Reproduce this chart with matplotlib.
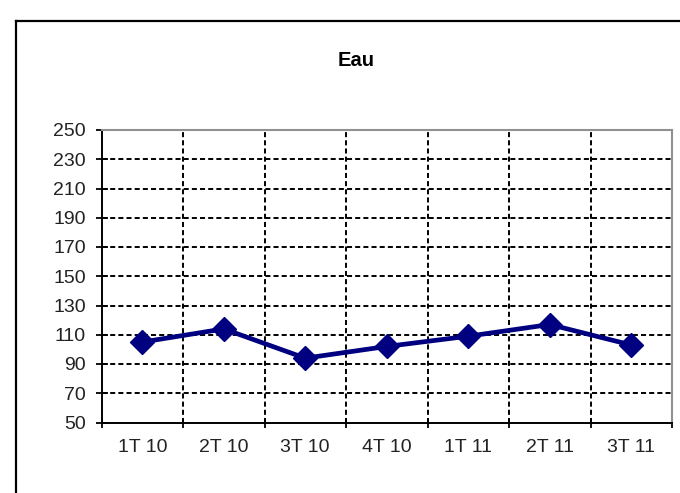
import matplotlib
matplotlib.use("Agg")
import matplotlib.pyplot as plt
from matplotlib.lines import Line2D
import numpy as np

categories = ["1T 10", "2T 10", "3T 10", "4T 10", "1T 11", "2T 11", "3T 11"]
values = [105, 114, 94, 102, 109, 117, 103]
y_ticks = list(range(50, 251, 20))
title = "Eau"

plt.rcParams['font.family'] = ['Liberation Sans', 'DejaVu Sans']

fig = plt.figure(figsize=(6.8, 4.93), dpi=100)
fig.patch.set_facecolor("white")

# outer frame (left and top visible)
fig.add_artist(Line2D([16/680, 16/680], [0, 1 - 21/493], transform=fig.transFigure,
                      color="black", lw=1.6))
fig.add_artist(Line2D([16/680, 1], [1 - 21/493, 1 - 21/493], transform=fig.transFigure,
                      color="black", lw=1.6))

ax = fig.add_axes([101.5/680, 70.5/493, (672-101.5)/680, (422.5-130)/493])
x = np.arange(len(categories))
ax.plot(x, values, color="#000080", lw=3.4, marker="D", ms=12.5, zorder=5, clip_on=False)

ax.set_xlim(-0.5, len(categories) - 0.5)
ax.set_ylim(50, 250)
ax.set_yticks(y_ticks)
ax.set_xticks(x)
ax.set_xticklabels(categories)
ax.set_xticks(np.arange(-0.5, len(categories), 1), minor=True)

ax.tick_params(axis="x", which="major", length=0, pad=12, labelsize=14, colors="#222222")
ax.tick_params(axis="x", which="minor", direction="inout", length=7.5, width=1.3, color="black")
ax.tick_params(axis="y", which="major", direction="inout", length=8.5, width=1.3,
               color="black", pad=7, labelsize=14, labelcolor="#222222")

ax.grid(False)
for yv in y_ticks[1:-1]:
    ax.axhline(yv, color="black", lw=1.4, ls=(0, (2.6, 1.6)), zorder=1)
for xv in np.arange(0.5, len(categories) - 0.5, 1):
    ax.axvline(xv, color="black", lw=1.4, ls=(0, (2.6, 1.6)), zorder=1)

for s in ["left", "bottom"]:
    ax.spines[s].set_color("black")
    ax.spines[s].set_linewidth(1.4)
for s in ["top", "right"]:
    ax.spines[s].set_color("#909090")
    ax.spines[s].set_linewidth(1.5)

fig.text(356/680, 1 - 61/493, title, ha="center", va="center", fontsize=14.5,
         fontweight="bold", color="black")

fig.savefig("out.png", dpi=100, facecolor="white")
